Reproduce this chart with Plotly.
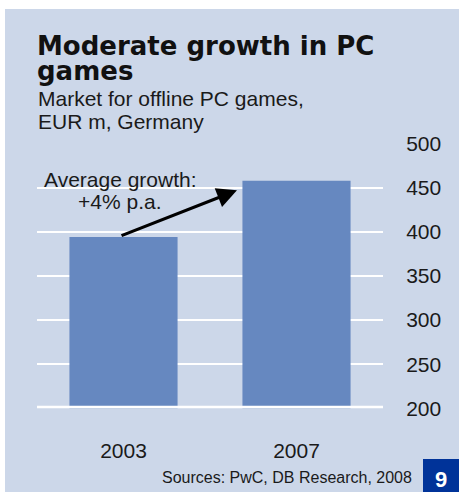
import plotly.graph_objects as go

# ---- data ----
years = ["2003", "2007"]
market_eur_m = [394, 458]
y_ticks = [200, 250, 300, 350, 400, 450, 500]

title_lines = ["Moderate growth in PC", "games"]
subtitle_lines = ["Market for offline PC games,", "EUR m, Germany"]
note_lines = ["Average growth:", "+4% p.a."]
source_text = "Sources: PwC, DB Research, 2008"
page_no = "9"

W, H = 459, 492
PANEL = "#CCD7E9"
BAR = "#6688C0"
DARK = "#003399"
TXT = "#1a1a1a"


def px(x):
    return x / W


def py(y):
    return 1 - y / H


x_dom = [px(37), px(383)]
y_dom = [py(408.3), py(143.3)]

fig = go.Figure()
fig.add_trace(go.Bar(x=years, y=market_eur_m, marker=dict(color=BAR, line=dict(width=0)),
                     width=0.625, hoverinfo="skip"))

ann = []
# title
for i, (t, b) in enumerate(zip(title_lines, [55, 80])):
    ann.append(dict(text=t, x=px(35), y=py(b - 8.8), xref="paper", yref="paper",
                    xanchor="left", yanchor="middle", showarrow=False,
                    font=dict(family="DejaVu Sans", size=26, color="#111111", weight="bold")))
for t, b in zip(subtitle_lines, [106, 129]):
    ann.append(dict(text=t, x=px(36), y=py(b - 7.2), xref="paper", yref="paper",
                    xanchor="left", yanchor="middle", showarrow=False,
                    font=dict(family="Liberation Sans", size=21, color=TXT)))
for t, b, cx in zip(note_lines, [187, 209], [120, 119.5]):
    ann.append(dict(text=t, x=px(cx), y=py(b - 7.2), xref="paper", yref="paper",
                    xanchor="center", yanchor="middle", showarrow=False,
                    font=dict(family="Liberation Sans", size=21, color=TXT)))
# growth arrow between the bars (data coords)
ann.append(dict(x=0.656, y=447, xref="x", yref="y", ax=-0.02, ay=market_eur_m[0] + 1,
                axref="x", ayref="y", text="", showarrow=True, arrowhead=2,
                arrowsize=1.25, arrowwidth=3.2, arrowcolor="#000000", standoff=0, startstandoff=0))
ann.append(dict(text=source_text, x=px(414), y=py(483 - 5.5), xref="paper", yref="paper",
                xanchor="right", yanchor="middle", showarrow=False,
                font=dict(family="Liberation Sans", size=16, color=TXT)))
ann.append(dict(text="<b>" + page_no + "</b>", x=px(441), y=py(479.5), xref="paper", yref="paper",
                xanchor="center", yanchor="middle", showarrow=False,
                font=dict(family="Liberation Sans", size=22, color="white")))

shapes = [
    dict(type="rect", xref="paper", yref="paper", x0=px(5), x1=1.01, y0=-0.01, y1=py(9),
         fillcolor=PANEL, line=dict(width=0), layer="below"),
    dict(type="rect", xref="paper", yref="paper", x0=px(423), x1=1.01, y0=-0.01, y1=py(459),
         fillcolor=DARK, line=dict(width=0), layer="above"),
    dict(type="line", xref="paper", yref="y", x0=x_dom[0], x1=x_dom[1], y0=y_ticks[0], y1=y_ticks[0],
         line=dict(color="white", width=5), layer="above"),
]

fig.update_layout(
    width=W, height=H, margin=dict(l=0, r=0, t=0, b=0),
    paper_bgcolor="white", plot_bgcolor="rgba(0,0,0,0)",
    showlegend=False, bargap=0.375,
    annotations=ann, shapes=shapes,
    xaxis=dict(domain=x_dom, type="category", showgrid=False, zeroline=False, showline=False,
               ticks="outside", ticklen=23, tickcolor="rgba(0,0,0,0)",
               tickfont=dict(family="Liberation Sans", size=21, color=TXT), automargin=False),
    yaxis=dict(domain=y_dom, side="right", range=[y_ticks[0], y_ticks[-1] + 0.3],
               tickvals=y_ticks, ticktext=[str(v) for v in y_ticks],
               showgrid=True, gridcolor="white", gridwidth=2, zeroline=False, showline=False,
               ticks="outside", ticklen=18, tickcolor="rgba(0,0,0,0)",
               tickfont=dict(family="Liberation Sans", size=21, color=TXT), automargin=False),
)

fig.write_html("out.html", config={"displayModeBar": False},
               post_script="document.body.style.margin='0';document.body.style.padding='0';"
                           "document.body.style.overflow='hidden';")
